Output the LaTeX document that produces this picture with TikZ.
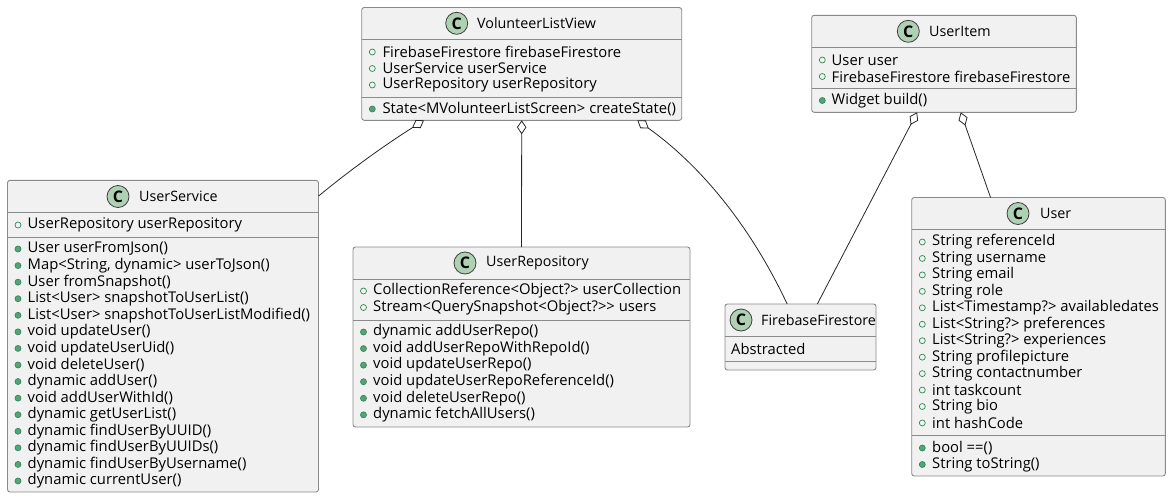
\documentclass[tikz,border=0pt]{standalone}
\usepackage{fontspec}
\setmainfont{Open Sans}
\usetikzlibrary{arrows.meta}
\definecolor{boxfill}{HTML}{F1F1F1}
\definecolor{boxline}{HTML}{8A8A8A}
\definecolor{spotfill}{HTML}{ADD1B2}
\definecolor{markgreen}{HTML}{2E8B57}
\tikzset{
  classbox/.style={draw=boxline,fill=boxfill,line width=0.9pt,rounded corners=2.5pt,inner sep=0pt,outer sep=0pt,anchor=north west},
  sepline/.style={draw=boxline,line width=0.9pt},
  spot/.style={circle,draw=black!75,fill=spotfill,line width=0.8pt,minimum size=22pt,inner sep=0pt,font=\fontsize{16}{16}\selectfont\bfseries},
  titletext/.style={anchor=west,inner sep=0pt,text=black,font=\fontsize{14.3}{16}\selectfont},
  rowtext/.style={anchor=west,inner sep=0pt,text=black,font=\fontsize{14.8}{16}\selectfont},
  fieldmark/.style={circle,draw=markgreen,fill=none,line width=0.7pt,minimum size=6pt,inner sep=0pt},
  methodmark/.style={circle,draw=markgreen,fill=markgreen!80,line width=0.7pt,minimum size=6pt,inner sep=0pt},
  aggr/.style={draw=black!85,line width=0.8pt,{Diamond[open,length=14pt,width=9.5pt]}-}
}
\begin{document}
\begin{tikzpicture}[x=1pt,y=-1pt]
  \useasboundingbox (0,0) rectangle (1171,498);
  % VolunteerListView
  \node[classbox,minimum width=320pt,minimum height=112.8pt] (listView) at (361.7,7.5) {};
  \draw[sepline] (361.7,39.3) -- (681.7,39.3);
  \draw[sepline] (361.7,97.3) -- (681.7,97.3);
  \node[spot] (listViewSpot) at (456.7,23.3) {C};
  \node[titletext] (listViewTitle) at (477,23.3) {VolunteerListView};
  \foreach \y/\t [count=\n] in {52/FirebaseFirestore firebaseFirestore,68.5/UserService userService,85/UserRepository userRepository} {
    \node[fieldmark] (listViewMark\n) at (372.3,\y) {};
    \node[rowtext] (listViewRow\n) at (382.3,\y) {\t};
  }
  \node[methodmark] (listViewMark4) at (372.3,109) {};
  \node[rowtext] (listViewRow4) at (382.3,109) {State<MVolunteerListScreen> createState()};
  % UserService
  \node[classbox,minimum width=311pt,minimum height=311.7pt] (userService) at (7.5,180.3) {};
  \draw[sepline] (7.5,212.3) -- (318.5,212.3);
  \draw[sepline] (7.5,237) -- (318.5,237);
  \node[spot] (userServiceSpot) at (118,196.5) {C};
  \node[titletext] (userServiceTitle) at (139,196.5) {UserService};
  \node[fieldmark] (userServiceField) at (18,225) {};
  \node[rowtext] (userServiceAttr) at (27.5,225) {UserRepository userRepository};
  \foreach \t [count=\n] in {User userFromJson(),{Map<String, dynamic> userToJson()},User fromSnapshot(),List<User> snapshotToUserList(),List<User> snapshotToUserListModified(),void updateUser(),void updateUserUid(),void deleteUser(),dynamic addUser(),void addUserWithId(),dynamic getUserList(),dynamic findUserByUUID(),dynamic findUserByUUIDs(),dynamic findUserByUsername(),dynamic currentUser()} {
    \node[methodmark] (userServiceMark\n) at (18,{249+(\n-1)*16.57}) {};
    \node[rowtext] (userServiceRow\n) at (27.5,{249+(\n-1)*16.57}) {\t};
  }
  % UserRepository
  \node[classbox,minimum width=337pt,minimum height=180pt] (userRepo) at (353,247) {};
  \draw[sepline] (353,279) -- (690,279);
  \draw[sepline] (353,320) -- (690,320);
  \node[spot] (userRepoSpot) at (465,263) {C};
  \node[titletext] (userRepoTitle) at (486,263) {UserRepository};
  \foreach \y/\t [count=\n] in {291/CollectionReference<Object?> userCollection,307.5/Stream<QuerySnapshot<Object?>{}> users} {
    \node[fieldmark] (userRepoField\n) at (363.5,\y) {};
    \node[rowtext] (userRepoAttr\n) at (373,\y) {\t};
  }
  \foreach \t [count=\n] in {dynamic addUserRepo(),void addUserRepoWithRepoId(),void updateUserRepo(),void updateUserRepoReferenceId(),void deleteUserRepo(),dynamic fetchAllUsers()} {
    \node[methodmark] (userRepoMark\n) at (363.5,{332+(\n-1)*16.57}) {};
    \node[rowtext] (userRepoRow\n) at (373,{332+(\n-1)*16.57}) {\t};
  }
  % FirebaseFirestore
  \node[classbox,minimum width=151pt,minimum height=66pt] (firestore) at (725,304) {};
  \draw[sepline] (725,336) -- (876,336);
  \draw[sepline] (725,361) -- (876,361);
  \node[spot] (firestoreSpot) at (741,320) {C};
  \node[titletext] (firestoreTitle) at (761,320) {FirebaseFirestore};
  \node[rowtext] (firestoreRow) at (731,349) {Abstracted};
  % UserItem
  \node[classbox,minimum width=264.6pt,minimum height=97pt] (userItem) at (811.7,15.3) {};
  \draw[sepline] (811.7,47.3) -- (1076.3,47.3);
  \draw[sepline] (811.7,88.3) -- (1076.3,88.3);
  \node[spot] (userItemSpot) at (908.3,31.3) {C};
  \node[titletext] (userItemTitle) at (929,31.3) {UserItem};
  \foreach \y/\t [count=\n] in {60/User user,76.5/FirebaseFirestore firebaseFirestore} {
    \node[fieldmark] (userItemField\n) at (822.3,\y) {};
    \node[rowtext] (userItemAttr\n) at (831.5,\y) {\t};
  }
  \node[methodmark] (userItemMark) at (822.3,100.5) {};
  \node[rowtext] (userItemRow) at (831.5,100.5) {Widget build()};
  % User
  \node[classbox,minimum width=253.6pt,minimum height=278.5pt] (user) at (911.7,197.5) {};
  \draw[sepline] (911.7,229.5) -- (1165.3,229.5);
  \draw[sepline] (911.7,435) -- (1165.3,435);
  \node[spot] (userSpot) at (1018,213.5) {C};
  \node[titletext] (userTitle) at (1040,213.5) {User};
  \foreach \t [count=\n] in {String referenceId,String username,String email,String role,List<Timestamp?> availabledates,List<String?> preferences,List<String?> experiences,String profilepicture,String contactnumber,int taskcount,String bio,int hashCode} {
    \node[fieldmark] (userField\n) at (922.3,{242+(\n-1)*16.45}) {};
    \node[rowtext] (userAttr\n) at (932,{242+(\n-1)*16.45}) {\t};
  }
  \foreach \y/\t [count=\n] in {448/bool ==(),464.5/String toString()} {
    \node[methodmark] (userMark\n) at (922.3,\y) {};
    \node[rowtext] (userRow\n) at (932,\y) {\t};
  }
  % aggregations
  \draw[aggr] (listView.-150.25) .. controls (385,145) and (350,170) .. (userService.42.23);
  \draw[aggr] (listView.south) -- (userRepo.north);
  \draw[aggr] (listView.-26.46) .. controls (700,165) and (750,225) .. (firestore.112.25);
  \draw[aggr] (userItem.-119.1) -- (firestore.63.43);
  \draw[aggr] (userItem.-71.7) -- (user.109.57);
\end{tikzpicture}
\end{document}
